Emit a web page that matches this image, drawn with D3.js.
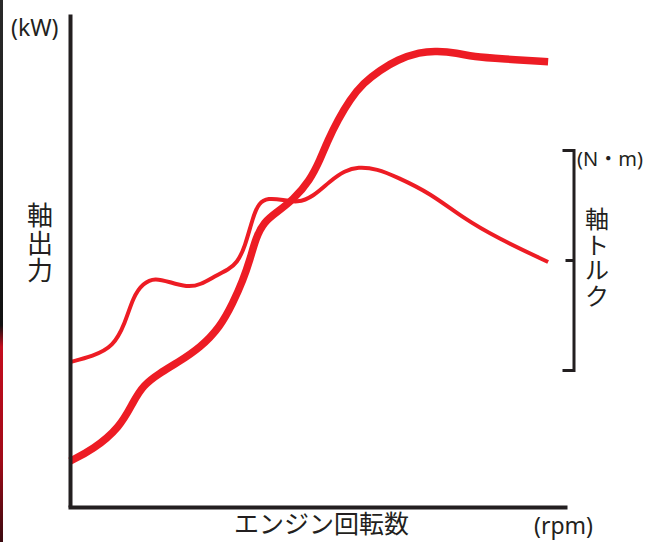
<!DOCTYPE html>
<html lang="ja">
<head>
    <meta charset="utf-8">
    <title>軸出力・軸トルク</title>
    <script src="https://d3js.org/d3.v7.min.js"></script>
    <style>
        body {
            margin: 0;
            background: #fff;
        }
        svg text {
            fill: #231f20;
        }
        .jp {
            font-family: "Noto Sans CJK JP", sans-serif;
        }
        .unit {
            font-family: "Noto Sans", "Noto Sans CJK JP", sans-serif;
        }
    </style>
</head>
<body>
<script>

    var w = 648;
    var h = 542;

    // rpm on a 0-100 scale (no numbers in the original)
    var rpmT = [0, 4.6, 8.7, 11.1, 12.7, 14.7, 17.1, 20.1, 23.5, 26.2, 29.6, 31.8, 33.6, 35.2, 36.8, 38.0, 39.8, 42.9, 45.7, 48.9, 52.3, 55.3, 57.9, 61.8, 65.8, 72.4, 79.1, 85.9, 96.2];
    var torque = [29.4, 30.6, 32.5, 37.3, 42.6, 45.4, 46.5, 45.6, 44.6, 45.0, 47.1, 48.1, 49.5, 52.7, 58.8, 61.7, 62.7, 62.3, 61.7, 62.9, 66.1, 68.2, 69.0, 68.6, 66.9, 63.7, 58.6, 54.6, 49.7];

    var rpmP = [0, 4.6, 10.1, 12.7, 14.7, 18.1, 21.5, 26.2, 30.2, 32.8, 34.8, 36.2, 37.4, 39.0, 41.6, 44.9, 48.3, 50.3, 51.9, 53.9, 56.3, 59.0, 62.4, 65.8, 70.4, 73.8, 77.9, 81.1, 87.1, 96.2];
    var power = [9.3, 11.6, 16.2, 21.3, 24.7, 27.2, 29.2, 32.3, 36.5, 41.4, 46.0, 50.1, 54.6, 57.8, 59.8, 62.3, 66.3, 70.4, 74.4, 78.5, 82.6, 86.0, 88.6, 90.7, 92.3, 92.5, 92.1, 91.3, 90.9, 90.3];

    var leftLabel = ["軸", "出", "力"];
    var rightLabel = ["軸", "ト", "ル", "ク"];

    var red = "#ed1c24";
    var ink = "#231f20";

    var xScale = d3.scaleLinear().domain([0, 100]).range([70, 567]);
    var yScale = d3.scaleLinear().domain([0, 100]).range([507, 14]);
    // torque bracket on the right
    var tScale = d3.scaleLinear().domain([0, 100]).range([370, 150]);

    var svg = d3.select("body")
        .append("svg")
        .attr("width", w)
        .attr("height", h);

    // thin photo strip along the left edge of the crop
    var grad = svg.append("defs").append("linearGradient")
        .attr("id", "edge")
        .attr("x1", 0).attr("y1", 0).attr("x2", 0).attr("y2", 1);
    grad.append("stop").attr("offset", "0").attr("stop-color", "#2a2a2a");
    grad.append("stop").attr("offset", "0.6").attr("stop-color", "#111");
    grad.append("stop").attr("offset", "0.64").attr("stop-color", "#c40d1e");
    grad.append("stop").attr("offset", "0.85").attr("stop-color", "#a00a18");
    grad.append("stop").attr("offset", "1").attr("stop-color", "#3a0a10");
    svg.append("rect")
        .attr("x", 0).attr("y", 0)
        .attr("width", 3).attr("height", h)
        .attr("fill", "url(#edge)");

    var line = d3.line()
        .curve(d3.curveBasis);

    //torque curve (thin)
    svg.append("path")
        .datum(rpmT.map(function(d, i){ return [xScale(d), yScale(torque[i])]; }))
        .attr("d", line)
        .attr("fill", "none")
        .attr("stroke", red)
        .attr("stroke-width", 4);

    //power curve (thick)
    svg.append("path")
        .datum(rpmP.map(function(d, i){ return [xScale(d), yScale(power[i])]; }))
        .attr("d", line)
        .attr("fill", "none")
        .attr("stroke", red)
        .attr("stroke-width", 7.5);

    //axes
    svg.append("g")
        .attr("transform", "translate(" + xScale(0) + ",0)")
        .call(d3.axisLeft(yScale).tickValues([]).tickSizeOuter(0))
        .select(".domain")
        .attr("stroke", ink)
        .attr("stroke-width", 4);

    svg.append("g")
        .attr("transform", "translate(0," + yScale(0) + ")")
        .call(d3.axisBottom(d3.scaleLinear().domain([0, 100]).range([68, 567])).tickValues([]).tickSizeOuter(0))
        .select(".domain")
        .attr("stroke", ink)
        .attr("stroke-width", 4);

    var tAxis = svg.append("g")
        .attr("transform", "translate(573.5,0)")
        .call(d3.axisLeft(tScale).tickValues([50]).tickSize(8).tickSizeOuter(11).tickFormat(""));
    tAxis.selectAll(".domain, line")
        .attr("stroke", ink)
        .attr("stroke-width", 3);

    //labels
    svg.append("text")
        .attr("class", "unit")
        .attr("x", 11).attr("y", 36)
        .style("font-size", "23px")
        .text("(kW)");

    svg.append("text")
        .attr("class", "unit")
        .attr("x", 577).attr("y", 166)
        .style("font-size", "20px")
        .text("(N・m)");

    svg.append("text")
        .attr("class", "unit")
        .attr("x", 534).attr("y", 534)
        .style("font-size", "23px")
        .text("(rpm)");

    svg.append("text")
        .attr("class", "jp")
        .attr("x", 234).attr("y", 533)
        .style("font-size", "25px")
        .text("エンジン回転数");

    //vertical axis titles, one character per row
    svg.selectAll(".leftTitle")
        .data(leftLabel)
        .enter()
        .append("text")
        .attr("class", "jp leftTitle")
        .attr("text-anchor", "middle")
        .attr("x", 40)
        .attr("y", function(d, i){ return 225 + i * 27.5; })
        .style("font-size", "26px")
        .text(function(d){ return d; });

    svg.selectAll(".rightTitle")
        .data(rightLabel)
        .enter()
        .append("text")
        .attr("class", "jp rightTitle")
        .attr("text-anchor", "middle")
        .attr("x", 597)
        .attr("y", function(d, i){ return 228 + i * 25.5; })
        .style("font-size", "24px")
        .text(function(d){ return d; });

</script>
</body>
</html>
